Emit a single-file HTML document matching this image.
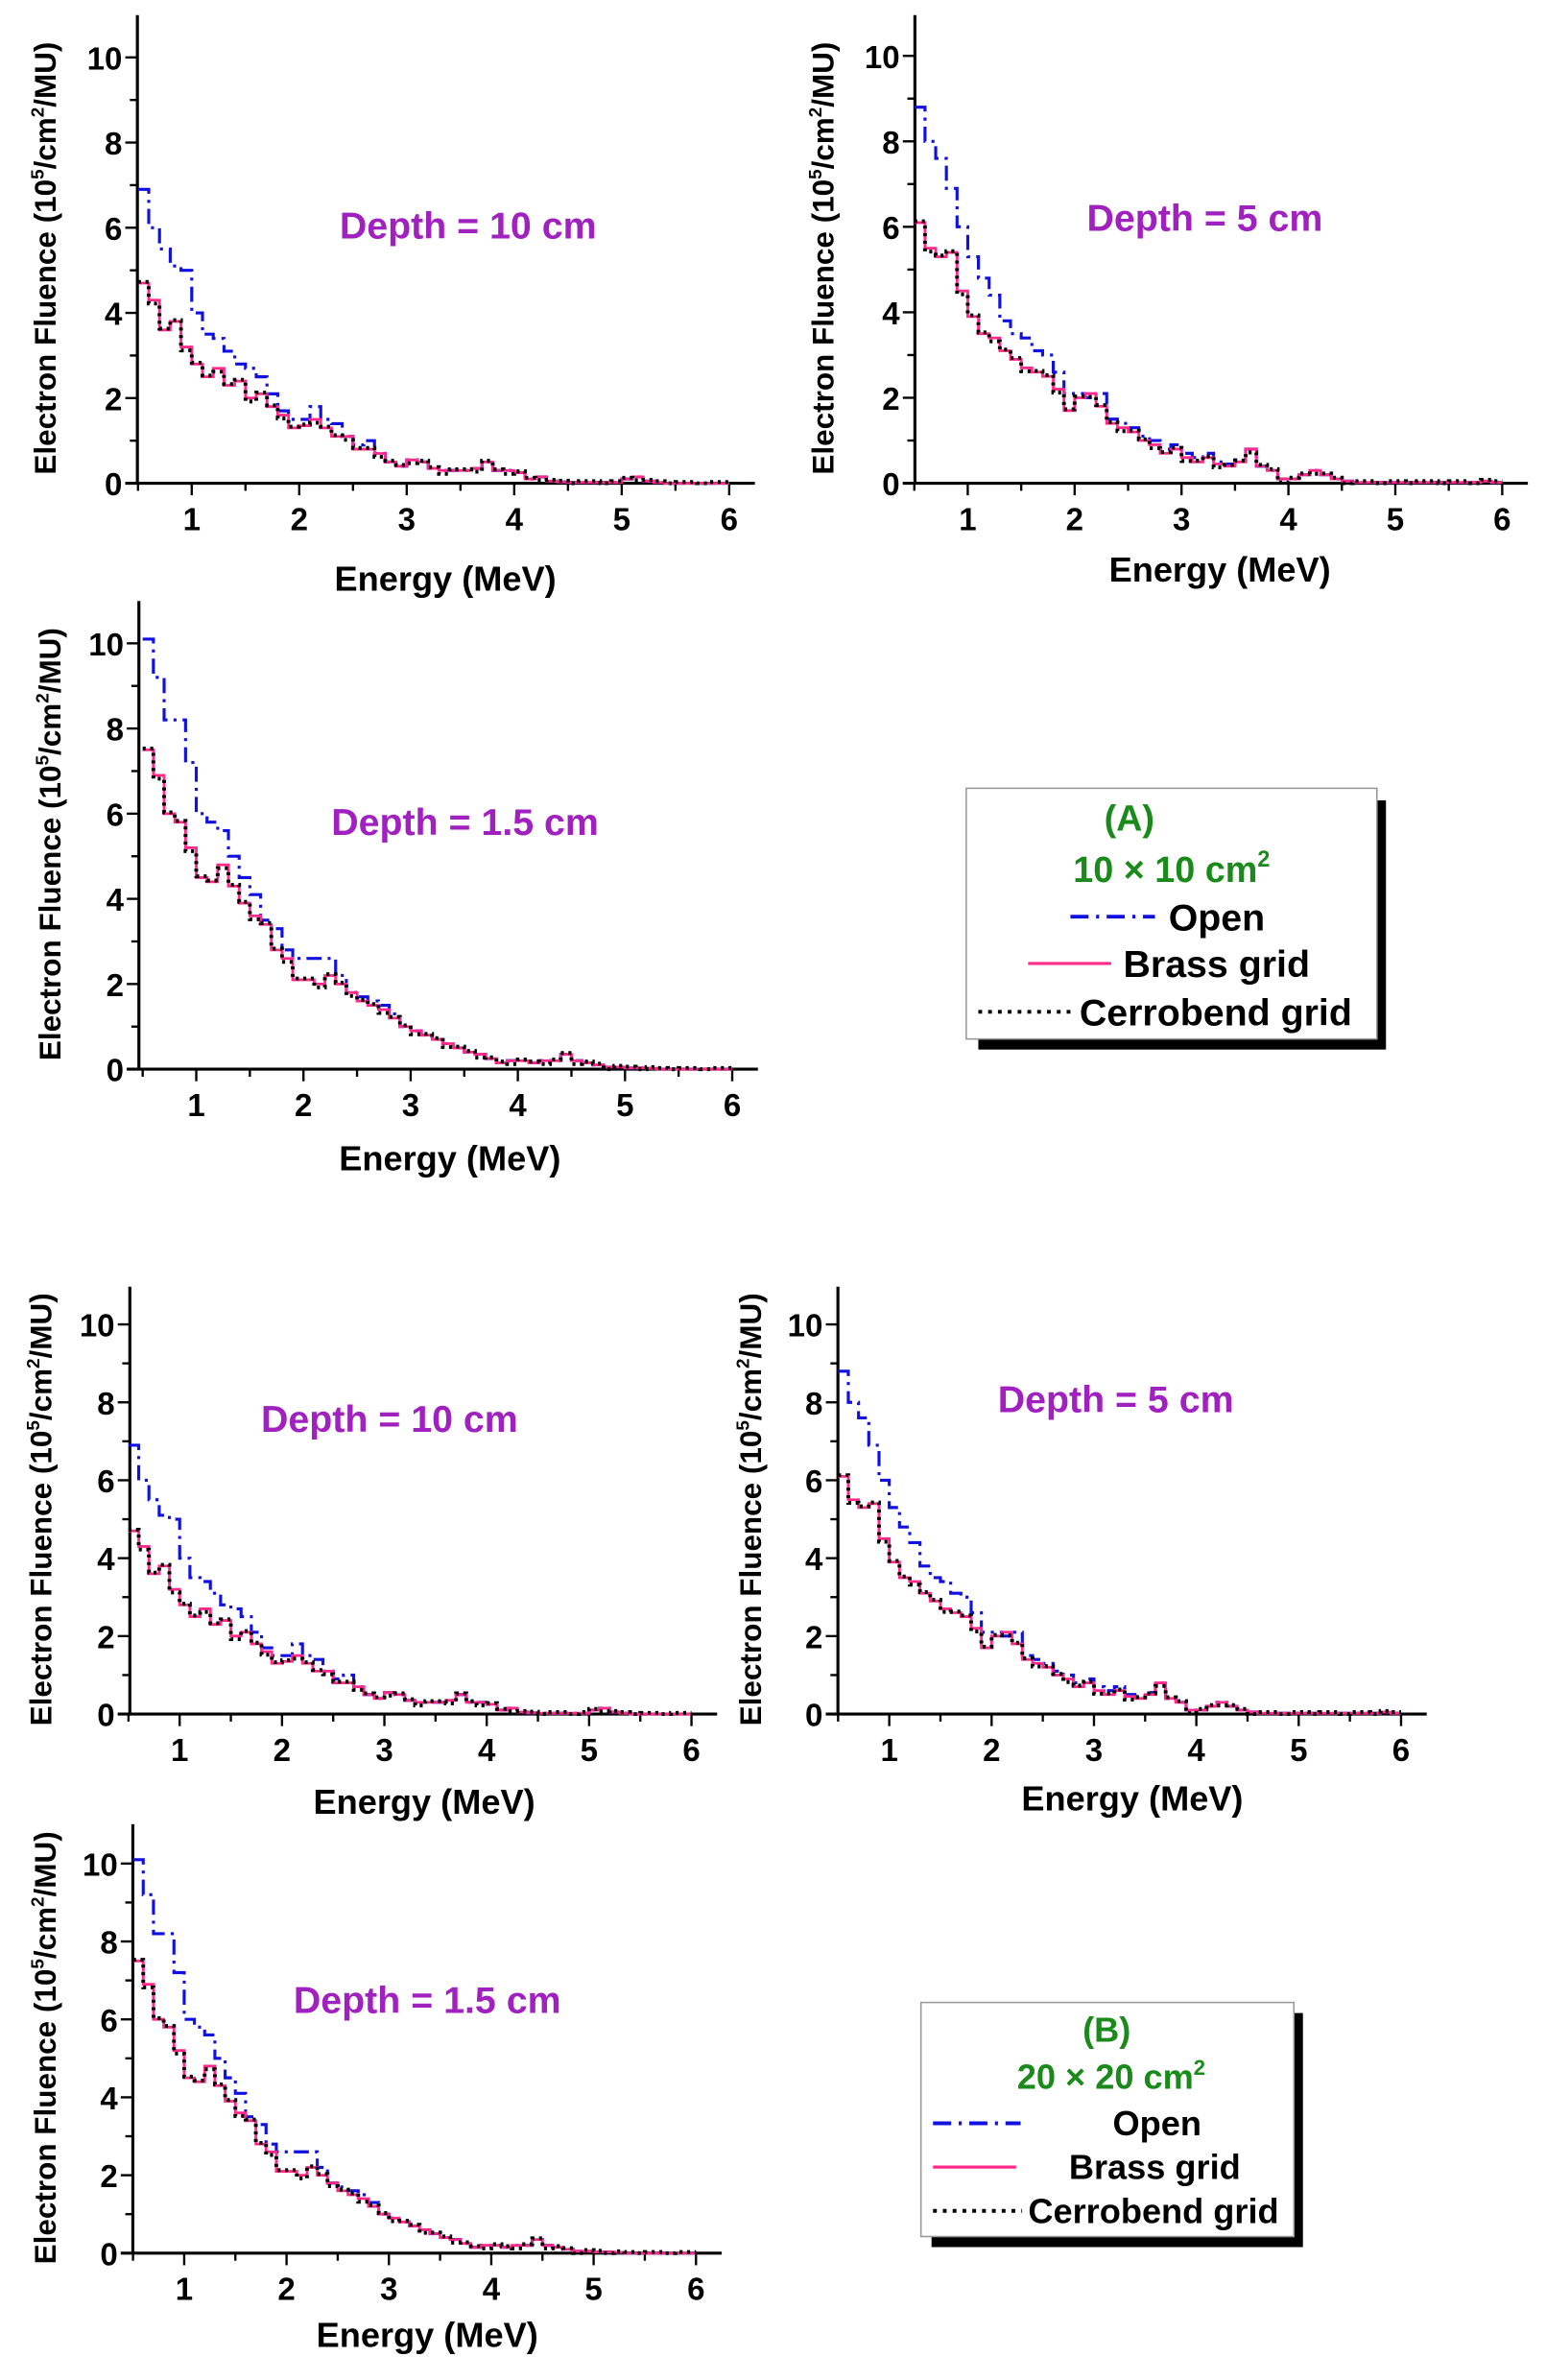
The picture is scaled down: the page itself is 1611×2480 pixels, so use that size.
<!DOCTYPE html>
<html><head><meta charset="utf-8"><style>
html,body{margin:0;padding:0;background:#fff}
svg{display:block}
text{font-family:"Liberation Sans",Arial,sans-serif;font-weight:bold}
</style></head><body>
<svg id="s" width="1611" height="2480" viewBox="0 0 1024 1576" preserveAspectRatio="none" xmlns="http://www.w3.org/2000/svg">
<rect width="1024" height="1576" fill="#fff"/>
<g id="g"></g>
<!-- Legend A -->
<rect x="648" y="530" width="270" height="165" fill="#000"/>
<rect x="640" y="522" width="272" height="166" fill="#fff" stroke="#999" stroke-width="1"/>
<text x="748" y="550" font-size="24" fill="#1a8a1a" text-anchor="middle">(A)</text>
<text x="776" y="584" font-size="24" fill="#1a8a1a" text-anchor="middle">10 × 10 cm<tspan font-size="15" dy="-10">2</tspan></text>
<line x1="709" y1="607" x2="765" y2="607" stroke="#1010e0" stroke-width="2.5" stroke-dasharray="12,5,2,5"/>
<text x="774" y="616" font-size="25" fill="#000">Open</text>
<line x1="681" y1="638" x2="736" y2="638" stroke="#ff2a8a" stroke-width="2"/>
<text x="744" y="647" font-size="25" fill="#000">Brass grid</text>
<line x1="648" y1="670" x2="710" y2="670" stroke="#000" stroke-width="2.5" stroke-dasharray="2.5,4"/>
<text x="715" y="679" font-size="25" fill="#000">Cerrobend grid</text>
<!-- Legend B -->
<rect x="617" y="1333" width="246" height="155" fill="#000"/>
<rect x="610" y="1326" width="247" height="155" fill="#fff" stroke="#999" stroke-width="1"/>
<text x="733" y="1352" font-size="23" fill="#1a8a1a" text-anchor="middle">(B)</text>
<text x="736" y="1383" font-size="23" fill="#1a8a1a" text-anchor="middle">20 × 20 cm<tspan font-size="14" dy="-9">2</tspan></text>
<line x1="618" y1="1406" x2="676" y2="1406" stroke="#1010e0" stroke-width="2.5" stroke-dasharray="12,5,2,5"/>
<text x="737" y="1414" font-size="23" fill="#000">Open</text>
<line x1="618" y1="1435" x2="673" y2="1435" stroke="#ff2a8a" stroke-width="2"/>
<text x="708" y="1443" font-size="23" fill="#000">Brass grid</text>
<line x1="618" y1="1464" x2="677" y2="1464" stroke="#000" stroke-width="2.5" stroke-dasharray="2.5,4"/>
<text x="681" y="1472" font-size="23" fill="#000">Cerrobend grid</text>
</svg>
<script>
var d10b=[4.7,4.3,3.6,3.8,3.2,2.8,2.5,2.7,2.3,2.4,2.0,2.1,1.8,1.6,1.3,1.35,1.5,1.3,1.1,1.1,0.8,0.8,0.7,0.5,0.4,0.55,0.5,0.35,0.3,0.3,0.3,0.35,0.5,0.3,0.3,0.25,0.1,0.15,0.05,0.03,0.02,0.02,0.02,0.02,0.02,0.1,0.15,0.05,0.02,0,0,0,0,0,0];
var d10o=[6.9,6.0,5.5,5.1,5.0,4.0,3.5,3.4,3.1,2.8,2.7,2.5,2.1,1.7,1.5,1.5,1.8,1.5,1.4,1.1,0.9,1.0,0.7];
var d5b=[6.1,5.5,5.3,5.4,4.5,3.9,3.5,3.4,3.1,2.9,2.7,2.6,2.5,2.2,1.7,2.0,2.1,1.8,1.4,1.3,1.2,1.0,0.9,0.7,0.8,0.6,0.5,0.6,0.45,0.4,0.5,0.8,0.4,0.3,0.1,0.1,0.2,0.3,0.2,0.1,0.05,0.02,0.02,0.02,0.02,0.02,0.02,0.02,0.02,0.02,0.02,0.02,0.02,0.05,0.02];
var d5o=[8.8,8.0,7.6,6.9,6.0,5.3,4.8,4.4,3.8,3.5,3.4,3.1,3.0,2.6,2.1,2.1,2.0,2.1,1.5,1.4,1.3,1.1,1.0,0.8,0.9,0.7,0.6,0.7,0.5,0.45,0.55];
var d1b=[7.5,6.9,6.0,5.8,5.2,4.5,4.4,4.8,4.3,3.9,3.6,3.4,2.8,2.6,2.1,2.1,2.0,2.2,2.0,1.8,1.6,1.5,1.4,1.2,1.0,0.9,0.8,0.7,0.6,0.5,0.4,0.35,0.25,0.15,0.2,0.2,0.15,0.2,0.2,0.35,0.2,0.15,0.1,0.05,0.05,0.03,0.03,0.02,0,0,0,0,0,0,0];
var d1o=[10.1,9.2,8.2,8.2,7.2,6.0,5.8,5.6,5.0,4.5,4.1,3.5,3.3,2.8,2.6,2.6,2.6,2.6,2.2,1.8,1.7,1.6,1.5,1.3];
function full(o,b){var r=b.slice();for(var i=0;i<o.length;i++)r[i]=o[i];return r;}
var P=[
{ax:91,x1:127,x6:483,y0:320,y10:38,top:10,right:500,xl:[295,391],dp:[310,158],dt:"Depth = 10 cm",yl:30,o:full(d10o,d10b),b:d10b},
{ax:606,x1:641,x6:995,y0:320,y10:37,top:10,right:1012,xl:[808,385],dp:[798,153],dt:"Depth = 5 cm",yl:545,o:full(d5o,d5b),b:d5b},
{ax:92,x1:130,x6:485,y0:708,y10:426,top:398,right:502,xl:[298,775],dp:[308,553],dt:"Depth = 1.5 cm",yl:33,o:full(d1o,d1b),b:d1b},
{ax:86,x1:119,x6:458,y0:1135,y10:877,top:852,right:475,xl:[281,1201],dp:[258,948],dt:"Depth = 10 cm",yl:27,o:full(d10o,d10b),b:d10b},
{ax:555,x1:589,x6:928,y0:1135,y10:877,top:852,right:945,xl:[750,1199],dp:[739,935],dt:"Depth = 5 cm",yl:497,o:full(d5o,d5b),b:d5b},
{ax:88,x1:122,x6:461,y0:1492,y10:1234,top:1208,right:478,xl:[283,1554],dp:[283,1333],dt:"Depth = 1.5 cm",yl:30,o:full(d1o,d1b),b:d1b}];
var h="";
P.forEach(function(p){
 var sx=(p.x6-p.x1)/5, sy=(p.y0-p.y10)/10;
 function X(e){return p.x1+(e-1)*sx;} function Y(v){return p.y0-v*sy;}
 h+='<line x1="'+p.ax+'" y1="'+p.top+'" x2="'+p.ax+'" y2="'+p.y0+'" stroke="#000" stroke-width="2"/>';
 h+='<line x1="'+(p.ax-8)+'" y1="'+p.y0+'" x2="'+p.right+'" y2="'+p.y0+'" stroke="#000" stroke-width="2"/>';
 for(var v=0;v<=10;v++){var len=v%2?5:8;h+='<line x1="'+(p.ax-len)+'" y1="'+Y(v)+'" x2="'+p.ax+'" y2="'+Y(v)+'" stroke="#000" stroke-width="1.5"/>';
  if(v%2==0)h+='<text x="'+(p.ax-10)+'" y="'+(Y(v)+8)+'" font-size="21" text-anchor="end">'+v+'</text>';}
 for(var e=1;e<=12;e++){var en=e/2;var len=e%2?5:8;h+='<line x1="'+X(en)+'" y1="'+p.y0+'" x2="'+X(en)+'" y2="'+(p.y0+len)+'" stroke="#000" stroke-width="1.5"/>';
  if(e%2==0)h+='<text x="'+X(en)+'" y="'+(p.y0+31)+'" font-size="21" text-anchor="middle">'+en+'</text>';}
 h+='<text x="'+p.xl[0]+'" y="'+p.xl[1]+'" font-size="23" text-anchor="middle">Energy (MeV)</text>';
 var cy=(p.top+p.y0)/2+6;
 h+='<text transform="translate('+(p.yl+7)+','+cy+') rotate(-90)" font-size="20" text-anchor="middle">Electron Fluence (10<tspan font-size="12" dy="-8">5</tspan><tspan dy="8">/cm</tspan><tspan font-size="12" dy="-8">2</tspan><tspan dy="8">/MU)</tspan></text>';
 h+='<text x="'+p.dp[0]+'" y="'+p.dp[1]+'" font-size="25" fill="#a020c0" text-anchor="middle">'+p.dt+'</text>';
 function path(a){var s="M"+X(0.5)+","+Y(a[0]);for(var i=0;i<a.length;i++){var e0=0.5+i*0.1,e1=e0+0.1;if(i>0)s+=" L"+X(e0)+","+Y(a[i]);s+=" L"+X(e1)+","+Y(a[i]);}return s;}
 h+='<path d="'+path(p.o)+'" fill="none" stroke="#1010e0" stroke-width="2" stroke-dasharray="10,4,2,4"/>';
 h+='<path d="'+path(p.b)+'" fill="none" stroke="#ff2a8a" stroke-width="1.8"/>';
 var c=p.b.map(function(v,i){return Math.max(0,v+(i%3==1?-0.08:0.03));});
 h+='<path d="'+path(c)+'" fill="none" stroke="#000" stroke-width="2.5" stroke-dasharray="2,3"/>';
});
document.getElementById("g").innerHTML=h;
</script>
</body></html>
